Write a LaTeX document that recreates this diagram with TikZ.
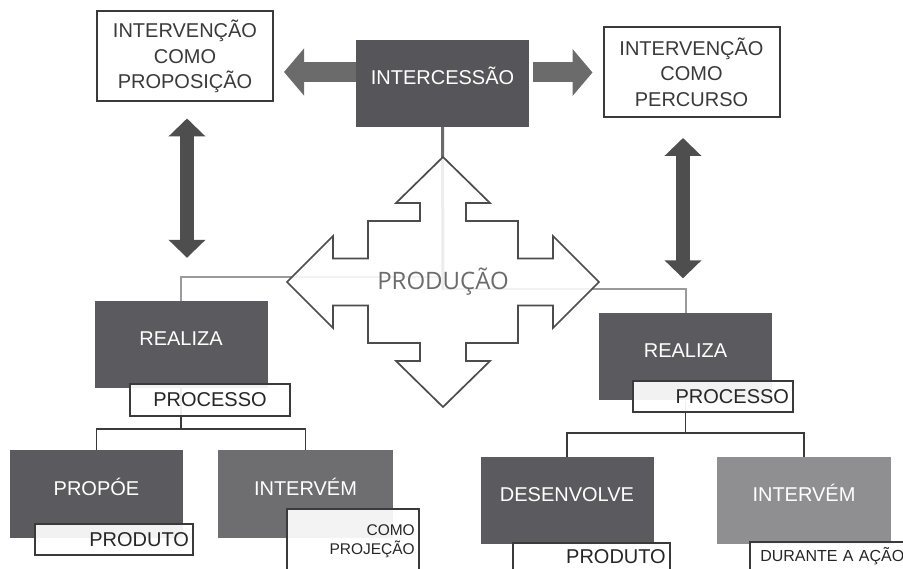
\documentclass[tikz,border=0pt]{standalone}
\usepackage{fontspec}
\setmainfont{Liberation Sans}
\newfontfamily\prodfont{Open Sans}
\usepackage{tikz}
\usetikzlibrary{arrows.meta,calc}
\definecolor{BoxDark}{HTML}{5B5B5F}
\definecolor{BoxMid}{HTML}{6E6E71}
\definecolor{BoxLight}{HTML}{8F8F92}
\definecolor{ArrowGrey}{HTML}{6B6B6B}
\definecolor{ArrowDark}{HTML}{4E4E4E}
\definecolor{EdgeDark}{HTML}{3A3A3A}
\definecolor{LinkGrey}{HTML}{9A9A9A}

\begin{document}
\begin{tikzpicture}[
  x=1pt, y=-1pt,
  whitebox/.style={draw=EdgeDark,line width=2pt,fill=white,text=EdgeDark,align=center,
    font=\fontsize{20}{25.5}\selectfont,minimum width=176pt,minimum height=90pt},
  darkbox/.style={fill=#1,text=white,font=\fontsize{20}{24}\selectfont,
    minimum width=173pt,minimum height=87pt,text height=14pt,text depth=12pt},
  darkbox/.default=BoxDark,
  tagbox/.style={draw=EdgeDark,line width=1.6pt,fill=white,fill opacity=.92,text opacity=1,
    text=black!85,font=\fontsize{20}{24}\selectfont,inner xsep=4pt,minimum height=31pt},
  sidearrow/.style={line width=20pt,draw=ArrowGrey,-{Triangle[length=20pt,width=46pt]}},
  updown/.style={line width=14pt,draw=ArrowDark,
    {Triangle[length=18pt,width=36pt]}-{Triangle[length=18pt,width=36pt]}},
  link/.style={draw=LinkGrey,line width=2pt},
  tree/.style={draw=EdgeDark,line width=1.8pt},
  cross/.style={draw=black!70,line width=1.7pt,fill=white,fill opacity=.88}
]
  \useasboundingbox (0,0) rectangle (903,569);

  % top row
  \node[darkbox=BoxDark!95!black] (inter) at (442.5,83.5) {INTERCESSÃO};
  \node[whitebox] (prop) at (185,56.5) {INTERVENÇÃO\\COMO\\PROPOSIÇÃO};
  \node[whitebox] (perc) at (691.5,72) {INTERVENÇÃO\\COMO\\PERCURSO};

  % realiza boxes
  \node[darkbox] (realL) at (181,344.5) {REALIZA};
  \node[darkbox] (realR) at (685.5,357) {REALIZA};

  % bottom row
  \node[darkbox] (propoe) at (96.5,494) {PROPÓE};
  \node[darkbox=BoxMid, minimum width=175pt] (interL) at (305.5,494) {INTERVÉM};
  \node[darkbox] (desen) at (567,500.5) {DESENVOLVE};
  \node[darkbox=BoxLight, minimum width=174pt] (interR) at (804,500.5) {INTERVÉM};

  \coordinate (hub) at (443,282);

  % block arrows
  \draw[sidearrow, shorten >=10pt] ($(inter.west)+(0,-11.5)$) -- ($(inter.west -| prop.east)+(0,-11.5)$);
  \draw[sidearrow, shorten <=4pt, shorten >=10pt] ($(inter.east)+(0,-11)$) -- ($(inter.east -| perc.west)+(0,-11)$);
  \draw[updown, shorten <=16pt, shorten >=43pt] ($(prop.south)+(2,0)$) -- ($(prop.south |- realL.north)+(2,0)$);
  \draw[updown, shorten <=20pt, shorten >=35pt] ($(perc.south)+(-8.5,0)$) -- ($(perc.south |- realR.north)+(-8.5,0)$);

  % lines to the centre
  \draw[link, draw=ArrowGrey, line width=3pt] (inter.south) -- ($(hub)+(0,8)$);
  \draw[link] (realL.north) |- ($(hub)+(0,-5)$);
  \draw[link] (realR.north) |- ($(hub)+(0,7)$);

  \draw[cross, shift={(hub)}] (0,-125) -- (47,-79) -- (23,-79) -- (23,-61) -- (75,-61)
    -- (75,-23.5) -- (110,-23.5) -- (110,-46) -- (156,0) -- (110,46) -- (110,23.5)
    -- (75,23.5) -- (75,61) -- (23,61) -- (23,79) -- (47,79) -- (0,125) -- (-47,79)
    -- (-23,79) -- (-23,61) -- (-75,61) -- (-75,23.5) -- (-110,23.5) -- (-110,46)
    -- (-156,0) -- (-110,-46) -- (-110,-23.5) -- (-75,-23.5) -- (-75,-61) -- (-23,-61)
    -- (-23,-79) -- (-47,-79) -- cycle;
  \node[font=\prodfont\fontsize{24}{27}\selectfont, text=black!58] (prod) at (hub) {PRODUÇÃO};

  % trees
  \draw[tree] (realL.south) -- ++(0,41) -| (propoe.north);
  \draw[tree] (realL.south) -- ++(0,41) -| (interL.north);
  \draw[tree] (realR.south) -- ++(0,32) -| (desen.north);
  \draw[tree] (realR.south) -- ++(0,32) -| (interR.north);

  % tags
  \node[tagbox, text width=152pt, align=center, minimum height=32pt] (procL) at (210,400) {PROCESSO};
  \node[tagbox, text width=152pt, align=right] (procR) at (713,396.5) {PROCESSO};
  \node[tagbox, text width=150pt, align=right] (prodL) at (114,539.5) {PRODUTO};
  \node[tagbox, anchor=north west, text width=124pt, align=right, minimum height=64pt,
    font=\fontsize{15.5}{19}\selectfont] (projL) at (286,508) {COMO\\PROJEÇÃO};
  \node[tagbox, anchor=north west, text width=149pt, align=right, minimum height=28pt] (prodR) at (512,542) {PRODUTO};
  \node[tagbox, anchor=north west, text width=157pt, align=center, minimum height=28pt,
    font=\fontsize{16}{18}\selectfont] (durR) at (749,541) {DURANTE A AÇÃO};
\end{tikzpicture}
\end{document}
